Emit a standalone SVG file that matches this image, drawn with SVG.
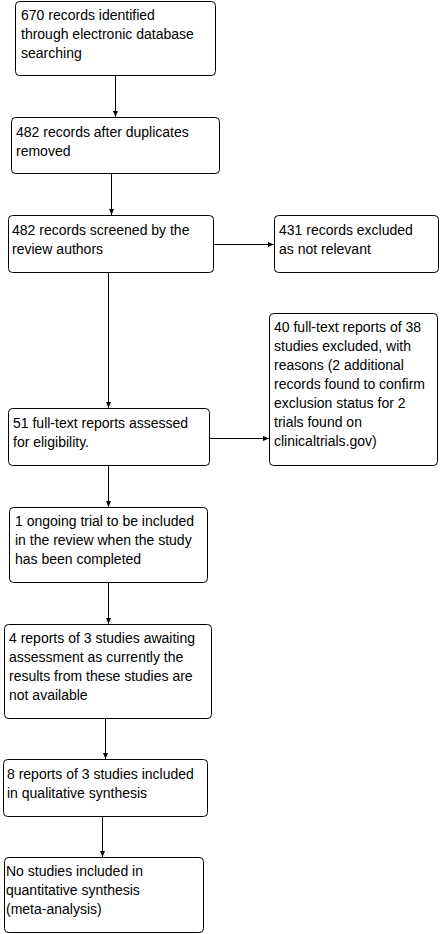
<svg xmlns="http://www.w3.org/2000/svg" width="440" height="934" viewBox="0 0 440 934">
<defs>
<marker id="ah" markerUnits="userSpaceOnUse" markerWidth="6" markerHeight="6" refX="6" refY="3" orient="auto">
<path d="M0,0.5 L6,3 L0,5.5 z" fill="#000"/>
</marker>
<style>
.b{fill:#fff;stroke:#000;stroke-width:1}
.t{font-family:"Liberation Sans",Arial,sans-serif;font-size:14px;fill:#000}
.c{stroke:#000;stroke-width:1;fill:none;marker-end:url(#ah)}
</style>
</defs>
<rect width="440" height="934" fill="#fff"/>
<g id="connectors">
<line class="c" x1="115.5" y1="76" x2="115.5" y2="117"/>
<line class="c" x1="111.5" y1="173" x2="111.5" y2="215"/>
<line class="c" x1="213" y1="244.5" x2="274" y2="244.5"/>
<line class="c" x1="108.5" y1="272" x2="108.5" y2="408"/>
<line class="c" x1="209" y1="438.5" x2="269" y2="438.5"/>
<line class="c" x1="108.5" y1="466" x2="108.5" y2="507"/>
<line class="c" x1="108.5" y1="582" x2="108.5" y2="624"/>
<line class="c" x1="105.5" y1="718" x2="105.5" y2="759"/>
<line class="c" x1="102.5" y1="816" x2="102.5" y2="857"/>
</g>
<g id="n1"><rect class="b" x="15.5" y="1.5" width="200" height="74" rx="4"/>
<text class="t" x="21" y="20">670 records identified<tspan x="21" dy="19">through electronic database</tspan><tspan x="21" dy="19">searching</tspan></text></g>
<g id="n2"><rect class="b" x="11.5" y="117.5" width="208" height="56" rx="4"/>
<text class="t" x="16" y="137">482 records after duplicates<tspan x="16" dy="19">removed</tspan></text></g>
<g id="n3"><rect class="b" x="8.5" y="215.5" width="205" height="57" rx="4"/>
<text class="t" x="12" y="235">482 records screened by the<tspan x="12" dy="19">review authors</tspan></text></g>
<g id="n4"><rect class="b" x="274.5" y="215.5" width="164" height="57" rx="4"/>
<text class="t" x="279" y="235">431 records excluded<tspan x="279" dy="19">as not relevant</tspan></text></g>
<g id="n5"><rect class="b" x="269.5" y="313.5" width="168" height="152" rx="4"/>
<text class="t" x="274" y="332">40 full-text reports of 38<tspan x="274" dy="19">studies excluded, with</tspan><tspan x="274" dy="19">reasons (2 additional</tspan><tspan x="274" dy="19">records found to confirm</tspan><tspan x="274" dy="19">exclusion status for 2</tspan><tspan x="274" dy="19">trials found on</tspan><tspan x="274" dy="19">clinicaltrials.gov)</tspan></text></g>
<g id="n6"><rect class="b" x="8.5" y="408.5" width="201" height="57" rx="4"/>
<text class="t" x="13" y="428">51 full-text reports assessed<tspan x="13" dy="19">for eligibility.</tspan></text></g>
<g id="n7"><rect class="b" x="9.5" y="507.5" width="198" height="75" rx="4"/>
<text class="t" x="15" y="526">1 ongoing trial to be included<tspan x="15" dy="19">in the review when the study</tspan><tspan x="15" dy="19">has been completed</tspan></text></g>
<g id="n8"><rect class="b" x="4.5" y="624.5" width="207" height="94" rx="4"/>
<text class="t" x="9" y="643">4 reports of 3 studies awaiting<tspan x="9" dy="19">assessment as currently the</tspan><tspan x="9" dy="19">results from these studies are</tspan><tspan x="9" dy="19">not available</tspan></text></g>
<g id="n9"><rect class="b" x="3.5" y="759.5" width="204" height="57" rx="4"/>
<text class="t" x="7" y="779">8 reports of 3 studies included<tspan x="7" dy="19">in qualitative synthesis</tspan></text></g>
<g id="n10"><rect class="b" x="4.5" y="857.5" width="199" height="75" rx="4"/>
<text class="t" x="6" y="876">No studies included in<tspan x="6" dy="19">quantitative synthesis</tspan><tspan x="6" dy="19">(meta-analysis)</tspan></text></g>
</svg>
